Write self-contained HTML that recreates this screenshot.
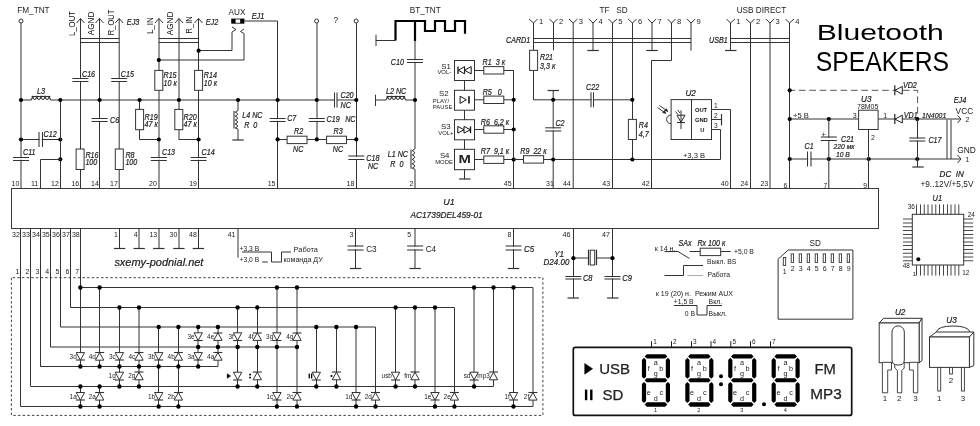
<!DOCTYPE html>
<html><head><meta charset="utf-8"><title>Bluetooth speakers schematic</title>
<style>
html,body{margin:0;padding:0;background:#fff;width:980px;height:426px;overflow:hidden;}
svg{display:block;font-family:"Liberation Sans",sans-serif;filter:grayscale(1);}
text{white-space:pre;}
</style></head><body>
<svg width="980" height="426" viewBox="0 0 980 426">
<rect x="0" y="0" width="980" height="426" fill="#fff"/>
<rect x="11.5" y="188.5" width="867" height="40" fill="#fff" stroke="#3a3a3a" stroke-width="1"/>
<text x="443.3" y="204.6" font-size="9" font-style="italic" fill="#222" stroke="#222" stroke-width="0.2">U1</text>
<text transform="translate(410.4,218) scale(0.97,1)" font-size="8.6" font-style="italic" fill="#222" stroke="#222" stroke-width="0.2">AC1739DEL459-01</text>
<text x="17.3" y="13.1" font-size="8.2" fill="#222">FM_TNT</text>
<line x1="21" y1="23" x2="21" y2="188.5" stroke="#333" stroke-width="1"/>
<circle cx="21" cy="21" r="2" fill="#fff" stroke="#333" stroke-width="1"/>
<line x1="80.5" y1="18.5" x2="80.5" y2="188.5" stroke="#333" stroke-width="1"/>
<polyline points="76.5,23 80.5,18.5 84.5,23" fill="none" stroke="#333" stroke-width="1"/>
<line x1="99.5" y1="18.5" x2="99.5" y2="188.5" stroke="#333" stroke-width="1"/>
<polyline points="95.5,23 99.5,18.5 103.5,23" fill="none" stroke="#333" stroke-width="1"/>
<line x1="119.2" y1="18.5" x2="119.2" y2="188.5" stroke="#333" stroke-width="1"/>
<polyline points="115.2,23 119.2,18.5 123.2,23" fill="none" stroke="#333" stroke-width="1"/>
<line x1="80.4" y1="38.5" x2="119.2" y2="38.5" stroke="#333" stroke-width="1"/>
<line x1="80.4" y1="42.5" x2="119.2" y2="42.5" stroke="#333" stroke-width="1"/>
<text transform="translate(126.8,24.8) scale(0.87,1)" font-size="8.42" font-style="italic" fill="#222" stroke="#222" stroke-width="0.2">EJ3</text>
<polyline points="155,23 159,18.5 163,23" fill="none" stroke="#333" stroke-width="1"/>
<polyline points="175,23 179,18.5 183,23" fill="none" stroke="#333" stroke-width="1"/>
<polyline points="194.5,23 198.5,18.5 202.5,23" fill="none" stroke="#333" stroke-width="1"/>
<line x1="159" y1="18.5" x2="159" y2="188.5" stroke="#333" stroke-width="1"/>
<line x1="179" y1="18.5" x2="179" y2="139.5" stroke="#333" stroke-width="1"/>
<line x1="198.5" y1="18.5" x2="198.5" y2="188.5" stroke="#333" stroke-width="1"/>
<line x1="158.8" y1="38.5" x2="198.6" y2="38.5" stroke="#333" stroke-width="1"/>
<line x1="158.8" y1="42.5" x2="198.6" y2="42.5" stroke="#333" stroke-width="1"/>
<text transform="translate(205.7,25.2) scale(0.87,1)" font-size="8.42" font-style="italic" fill="#222" stroke="#222" stroke-width="0.2">EJ2</text>
<text transform="translate(74.8,36.1) rotate(-90)" font-size="9.4" fill="#111" textLength="25.2" lengthAdjust="spacingAndGlyphs">L_OUT</text>
<text transform="translate(93.8,35.2) rotate(-90)" font-size="9.4" fill="#111" textLength="23.6" lengthAdjust="spacingAndGlyphs">AGND</text>
<text transform="translate(114,35.2) rotate(-90)" font-size="9.4" fill="#111" textLength="25.5" lengthAdjust="spacingAndGlyphs">R_OUT</text>
<text transform="translate(153,34.1) rotate(-90)" font-size="9.4" fill="#111" textLength="16.8" lengthAdjust="spacingAndGlyphs">L_IN</text>
<text transform="translate(173.3,35.2) rotate(-90)" font-size="9.4" fill="#111" textLength="23.6" lengthAdjust="spacingAndGlyphs">AGND</text>
<text transform="translate(191.8,33.4) rotate(-90)" font-size="9.4" fill="#111" textLength="17" lengthAdjust="spacingAndGlyphs">R_IN</text>
<line x1="21" y1="100" x2="334.3" y2="100" stroke="#333" stroke-width="1"/>
<line x1="336.9" y1="100" x2="356.3" y2="100" stroke="#333" stroke-width="1"/>
<rect x="31.2" y="98.5" width="19.5" height="3" fill="#fff"/>
<line x1="31.6" y1="96.5" x2="50.3" y2="96.5" stroke="#333" stroke-width="1.1"/>
<path d="M31.1,100 L32.7,96.8 Q34.76,102.6 36.83,96.8 Q38.89,102.6 40.95,96.8 Q43.01,102.6 45.08,96.8 Q47.14,102.6 49.2,96.8 L50.8,100" fill="none" stroke="#333" stroke-width="1.1"/>
<text transform="translate(37,93.8) scale(0.87,1)" font-size="8.42" font-style="italic" fill="#222" stroke="#222" stroke-width="0.2">L3</text>
<line x1="21" y1="139.5" x2="60.3" y2="139.5" stroke="#333" stroke-width="1"/>
<rect x="39.5" y="138.5" width="2.2" height="2" fill="#fff"/>
<line x1="39" y1="132" x2="39" y2="147" stroke="#333" stroke-width="1.05"/>
<line x1="42.5" y1="132" x2="42.5" y2="147" stroke="#333" stroke-width="1.05"/>
<text transform="translate(43.6,136.9) scale(0.87,1)" font-size="8.21" font-style="italic" fill="#222" stroke="#222" stroke-width="0.2">C12</text>
<circle cx="21" cy="139.5" r="2.1" fill="#000"/>
<circle cx="60.3" cy="139.5" r="2.1" fill="#000"/>
<rect x="20" y="158.1" width="2" height="1.6" fill="#fff"/>
<line x1="13" y1="157.5" x2="29" y2="157.5" stroke="#333" stroke-width="1.05"/>
<line x1="13" y1="160.5" x2="29" y2="160.5" stroke="#333" stroke-width="1.05"/>
<text transform="translate(23,155.4) scale(0.87,1)" font-size="8.21" font-style="italic" fill="#222" stroke="#222" stroke-width="0.2">C11</text>
<line x1="60.5" y1="100" x2="60.5" y2="188.5" stroke="#333" stroke-width="1"/>
<circle cx="60.3" cy="159.3" r="2.1" fill="#000"/>
<polyline points="40.5,188.5 40.5,159.5 60.5,159.5" fill="none" stroke="#333" stroke-width="1"/>
<rect x="79.4" y="79.1" width="2" height="1.9" fill="#fff"/>
<line x1="72.4" y1="78.5" x2="88.4" y2="78.5" stroke="#333" stroke-width="1.05"/>
<line x1="72.4" y1="81.5" x2="88.4" y2="81.5" stroke="#333" stroke-width="1.05"/>
<text transform="translate(82,77) scale(0.87,1)" font-size="8.21" font-style="italic" fill="#222" stroke="#222" stroke-width="0.2">C16</text>
<rect x="118.2" y="79.1" width="2" height="1.9" fill="#fff"/>
<line x1="111.2" y1="78.5" x2="127.2" y2="78.5" stroke="#333" stroke-width="1.05"/>
<line x1="111.2" y1="81.5" x2="127.2" y2="81.5" stroke="#333" stroke-width="1.05"/>
<text transform="translate(120.8,77) scale(0.87,1)" font-size="8.21" font-style="italic" fill="#222" stroke="#222" stroke-width="0.2">C15</text>
<rect x="98.6" y="119.1" width="2" height="1.9" fill="#fff"/>
<line x1="91.6" y1="118.5" x2="107.6" y2="118.5" stroke="#333" stroke-width="1.05"/>
<line x1="91.6" y1="121.5" x2="107.6" y2="121.5" stroke="#333" stroke-width="1.05"/>
<text transform="translate(110,122.8) scale(0.87,1)" font-size="8.21" font-style="italic" fill="#222" stroke="#222" stroke-width="0.2">C6</text>
<rect x="76.1" y="149" width="8" height="20.5" fill="#fff" stroke="#333" stroke-width="1"/>
<text transform="translate(85.4,158) scale(0.87,1)" font-size="8.21" font-style="italic" fill="#222" stroke="#222" stroke-width="0.2">R16</text>
<text transform="translate(85.4,165.2) scale(0.87,1)" font-size="8.21" font-style="italic" fill="#222" stroke="#222" stroke-width="0.2">100</text>
<rect x="115.3" y="149" width="8" height="20.5" fill="#fff" stroke="#333" stroke-width="1"/>
<text transform="translate(125.4,158) scale(0.87,1)" font-size="8.21" font-style="italic" fill="#222" stroke="#222" stroke-width="0.2">R8</text>
<text transform="translate(125.4,165.2) scale(0.87,1)" font-size="8.21" font-style="italic" fill="#222" stroke="#222" stroke-width="0.2">100</text>
<line x1="139.5" y1="100" x2="139.5" y2="139.5" stroke="#333" stroke-width="1"/>
<line x1="139.6" y1="139.5" x2="158.8" y2="139.5" stroke="#333" stroke-width="1"/>
<rect x="135.6" y="109.4" width="8" height="20.3" fill="#fff" stroke="#333" stroke-width="1"/>
<text transform="translate(144.6,120) scale(0.87,1)" font-size="8.21" font-style="italic" fill="#222" stroke="#222" stroke-width="0.2">R19</text>
<text transform="translate(144.6,127.2) scale(0.87,1)" font-size="8.21" font-style="italic" fill="#222" stroke="#222" stroke-width="0.2">47 к</text>
<rect x="154.8" y="70.4" width="8" height="19.9" fill="#fff" stroke="#333" stroke-width="1"/>
<text transform="translate(163.5,78) scale(0.87,1)" font-size="8.21" font-style="italic" fill="#222" stroke="#222" stroke-width="0.2">R15</text>
<text transform="translate(163.5,86) scale(0.87,1)" font-size="8.21" font-style="italic" fill="#222" stroke="#222" stroke-width="0.2">10 к</text>
<rect x="194.6" y="70.4" width="8" height="19.9" fill="#fff" stroke="#333" stroke-width="1"/>
<text transform="translate(203.8,78) scale(0.87,1)" font-size="8.21" font-style="italic" fill="#222" stroke="#222" stroke-width="0.2">R14</text>
<text transform="translate(203.8,86) scale(0.87,1)" font-size="8.21" font-style="italic" fill="#222" stroke="#222" stroke-width="0.2">10 к</text>
<rect x="174.8" y="109.4" width="8" height="20.3" fill="#fff" stroke="#333" stroke-width="1"/>
<line x1="178.9" y1="139.5" x2="198.6" y2="139.5" stroke="#333" stroke-width="1"/>
<text transform="translate(183.6,120) scale(0.87,1)" font-size="8.21" font-style="italic" fill="#222" stroke="#222" stroke-width="0.2">R20</text>
<text transform="translate(183.6,127.2) scale(0.87,1)" font-size="8.21" font-style="italic" fill="#222" stroke="#222" stroke-width="0.2">47 к</text>
<circle cx="158.8" cy="139.5" r="2.1" fill="#000"/>
<circle cx="198.6" cy="139.5" r="2.1" fill="#000"/>
<rect x="157.8" y="158.1" width="2" height="1.6" fill="#fff"/>
<line x1="150.8" y1="157.5" x2="166.8" y2="157.5" stroke="#333" stroke-width="1.05"/>
<line x1="150.8" y1="160.5" x2="166.8" y2="160.5" stroke="#333" stroke-width="1.05"/>
<text transform="translate(162,155) scale(0.87,1)" font-size="8.21" font-style="italic" fill="#222" stroke="#222" stroke-width="0.2">C13</text>
<rect x="197.6" y="158.1" width="2" height="1.6" fill="#fff"/>
<line x1="190.6" y1="157.5" x2="206.6" y2="157.5" stroke="#333" stroke-width="1.05"/>
<line x1="190.6" y1="160.5" x2="206.6" y2="160.5" stroke="#333" stroke-width="1.05"/>
<text transform="translate(201.6,155) scale(0.87,1)" font-size="8.21" font-style="italic" fill="#222" stroke="#222" stroke-width="0.2">C14</text>
<text x="228.6" y="15" font-size="8.2" fill="#222">AUX</text>
<rect x="231.7" y="19" width="12.3" height="4.2" fill="#fff"/>
<rect x="231.7" y="19" width="3.9" height="4.2" fill="#000"/>
<rect x="240.2" y="19" width="3.8" height="4.2" fill="#000"/>
<rect x="231.7" y="19" width="12.3" height="4.2" fill="none" stroke="#000" stroke-width="0.8"/>
<polyline points="244,21 277.5,21 277.5,188.5" fill="none" stroke="#333" stroke-width="1"/>
<text transform="translate(251.7,18.6) scale(0.87,1)" font-size="8.42" font-style="italic" fill="#222" stroke="#222" stroke-width="0.2">EJ1</text>
<polyline points="232,27 236,29.5 232,32 232,50.5 198.5,50.5" fill="none" stroke="#333" stroke-width="1"/>
<polyline points="244,29 240.5,31.5 244,33.5 244,60 159,60" fill="none" stroke="#333" stroke-width="1"/>
<circle cx="198.6" cy="50.7" r="2.1" fill="#000"/>
<circle cx="158.8" cy="60.1" r="2.1" fill="#000"/>
<line x1="238" y1="100" x2="238" y2="139.9" stroke="#333" stroke-width="1"/>
<rect x="236" y="110.5" width="4" height="18.6" fill="#fff"/>
<line x1="234" y1="111" x2="234" y2="128.6" stroke="#333" stroke-width="1.1"/>
<path d="M238,110.4 L235.2,112.2 Q240.2,114.18 235.2,116.15 Q240.2,118.12 235.2,120.1 Q240.2,122.07 235.2,124.05 Q240.2,126.02 235.2,128 L238,129.2" fill="none" stroke="#333" stroke-width="1"/>
<line x1="232.3" y1="140" x2="243.7" y2="140" stroke="#333" stroke-width="1.2"/>
<text transform="translate(242.3,117.5) scale(0.87,1)" font-size="8.21" font-style="italic" fill="#222" stroke="#222" stroke-width="0.2">L4 NC</text>
<text transform="translate(244.2,127.5) scale(0.87,1)" font-size="8.21" font-style="italic" fill="#222" stroke="#222" stroke-width="0.2">R  0</text>
<rect x="276.6" y="118.9" width="2" height="1.9" fill="#fff"/>
<line x1="269.6" y1="118.5" x2="285.6" y2="118.5" stroke="#333" stroke-width="1.05"/>
<line x1="269.6" y1="121.5" x2="285.6" y2="121.5" stroke="#333" stroke-width="1.05"/>
<text transform="translate(287.2,121.4) scale(0.87,1)" font-size="8.21" font-style="italic" fill="#222" stroke="#222" stroke-width="0.2">C7</text>
<line x1="317" y1="23" x2="317" y2="139.4" stroke="#333" stroke-width="1"/>
<circle cx="316.6" cy="21" r="2" fill="#fff" stroke="#333" stroke-width="1"/>
<text x="333.5" y="23" font-size="8.2" fill="#222">?</text>
<line x1="356.5" y1="23" x2="356.5" y2="188.5" stroke="#333" stroke-width="1"/>
<circle cx="356.1" cy="21" r="2" fill="#fff" stroke="#333" stroke-width="1"/>
<rect x="315.8" y="118.9" width="2" height="1.9" fill="#fff"/>
<line x1="308.8" y1="118.5" x2="324.8" y2="118.5" stroke="#333" stroke-width="1.05"/>
<line x1="308.8" y1="121.5" x2="324.8" y2="121.5" stroke="#333" stroke-width="1.05"/>
<text transform="translate(326.6,121.6) scale(0.87,1)" font-size="8.21" font-style="italic" fill="#222" stroke="#222" stroke-width="0.2">C19</text>
<text transform="translate(345.2,121.6) scale(0.87,1)" font-size="8.21" font-style="italic" fill="#222" stroke="#222" stroke-width="0.2">NC</text>
<rect x="334.9" y="99" width="1.4" height="2" fill="#fff"/>
<line x1="334.5" y1="92.5" x2="334.5" y2="107.5" stroke="#333" stroke-width="1.05"/>
<line x1="337" y1="92.5" x2="337" y2="107.5" stroke="#333" stroke-width="1.05"/>
<text transform="translate(340.5,97.5) scale(0.87,1)" font-size="8.21" font-style="italic" fill="#222" stroke="#222" stroke-width="0.2">C20</text>
<text transform="translate(340.5,107.5) scale(0.87,1)" font-size="8.21" font-style="italic" fill="#222" stroke="#222" stroke-width="0.2">NC</text>
<line x1="277.6" y1="139.5" x2="356.3" y2="139.5" stroke="#333" stroke-width="1"/>
<rect x="287.1" y="136.2" width="19.9" height="7.4" fill="#fff" stroke="#333" stroke-width="1"/>
<rect x="326.6" y="136.2" width="19.9" height="7.4" fill="#fff" stroke="#333" stroke-width="1"/>
<text transform="translate(294,133.7) scale(0.87,1)" font-size="8.21" font-style="italic" fill="#222" stroke="#222" stroke-width="0.2">R2</text>
<text transform="translate(293,151.7) scale(0.87,1)" font-size="8.21" font-style="italic" fill="#222" stroke="#222" stroke-width="0.2">NC</text>
<text transform="translate(333.5,133.7) scale(0.87,1)" font-size="8.21" font-style="italic" fill="#222" stroke="#222" stroke-width="0.2">R3</text>
<text transform="translate(332.8,151.7) scale(0.87,1)" font-size="8.21" font-style="italic" fill="#222" stroke="#222" stroke-width="0.2">NC</text>
<rect x="355.3" y="156.7" width="2" height="2.2" fill="#fff"/>
<line x1="348.3" y1="156" x2="364.3" y2="156" stroke="#333" stroke-width="1.05"/>
<line x1="348.3" y1="159.5" x2="364.3" y2="159.5" stroke="#333" stroke-width="1.05"/>
<text transform="translate(366.3,161.3) scale(0.87,1)" font-size="8.21" font-style="italic" fill="#222" stroke="#222" stroke-width="0.2">C18</text>
<text transform="translate(367.9,169) scale(0.87,1)" font-size="8.21" font-style="italic" fill="#222" stroke="#222" stroke-width="0.2">NC</text>
<circle cx="21" cy="100" r="2.1" fill="#000"/>
<circle cx="60.3" cy="100" r="2.1" fill="#000"/>
<circle cx="99.6" cy="100" r="2.1" fill="#000"/>
<circle cx="139.6" cy="100" r="2.1" fill="#000"/>
<circle cx="178.9" cy="100" r="2.1" fill="#000"/>
<circle cx="238" cy="100" r="2.1" fill="#000"/>
<circle cx="277.6" cy="100" r="2.1" fill="#000"/>
<circle cx="316.8" cy="100" r="2.1" fill="#000"/>
<circle cx="356.3" cy="100" r="2.1" fill="#000"/>
<circle cx="277.6" cy="139.4" r="2.1" fill="#000"/>
<circle cx="316.8" cy="139.4" r="2.1" fill="#000"/>
<circle cx="356.3" cy="139.4" r="2.1" fill="#000"/>
<line x1="376" y1="34.7" x2="376" y2="46" stroke="#333" stroke-width="1"/>
<line x1="375.8" y1="40.5" x2="395.5" y2="40.5" stroke="#333" stroke-width="1"/>
<polyline points="395.5,40.5 395.5,21 425,21 425,31 435,31 435,21 445,21 445,31 455,31 455,21 465,21 465,33.8" fill="none" stroke="#000" stroke-width="2.2"/>
<line x1="415" y1="21" x2="415" y2="41" stroke="#000" stroke-width="2.2"/>
<line x1="415" y1="41" x2="415" y2="188.5" stroke="#333" stroke-width="1"/>
<text x="409.8" y="13.1" font-size="8.2" fill="#222">BT_TNT</text>
<rect x="414" y="60.3" width="2" height="1.6" fill="#fff"/>
<line x1="407" y1="59.5" x2="423" y2="59.5" stroke="#333" stroke-width="1.05"/>
<line x1="407" y1="62.5" x2="423" y2="62.5" stroke="#333" stroke-width="1.05"/>
<text transform="translate(390.8,64.8) scale(0.87,1)" font-size="8.21" font-style="italic" fill="#222" stroke="#222" stroke-width="0.2">C10</text>
<line x1="375.5" y1="94.7" x2="375.5" y2="106" stroke="#333" stroke-width="1"/>
<line x1="375.6" y1="100" x2="415" y2="100" stroke="#333" stroke-width="1"/>
<rect x="386.1" y="98.5" width="19.5" height="3" fill="#fff"/>
<line x1="386.5" y1="96.5" x2="405.2" y2="96.5" stroke="#333" stroke-width="1.1"/>
<path d="M386,100 L387.6,96.8 Q389.66,102.6 391.73,96.8 Q393.79,102.6 395.85,96.8 Q397.91,102.6 399.98,96.8 Q402.04,102.6 404.1,96.8 L405.7,100" fill="none" stroke="#333" stroke-width="1.1"/>
<text transform="translate(386,93.8) scale(0.87,1)" font-size="8.21" font-style="italic" fill="#222" stroke="#222" stroke-width="0.2">L2 NC</text>
<circle cx="415" cy="100" r="2.1" fill="#000"/>
<rect x="413" y="148.9" width="4" height="20.4" fill="#fff"/>
<line x1="411" y1="149.4" x2="411" y2="168.8" stroke="#333" stroke-width="1.1"/>
<path d="M415,148.8 L412.2,150.6 Q417.2,152.8 412.2,155 Q417.2,157.2 412.2,159.4 Q417.2,161.6 412.2,163.8 Q417.2,166 412.2,168.2 L415,169.4" fill="none" stroke="#333" stroke-width="1"/>
<text transform="translate(387.8,157) scale(0.87,1)" font-size="8.21" font-style="italic" fill="#222" stroke="#222" stroke-width="0.2">L1 NC</text>
<text transform="translate(390.3,167) scale(0.87,1)" font-size="8.21" font-style="italic" fill="#222" stroke="#222" stroke-width="0.2">R  0</text>
<line x1="464.5" y1="80.5" x2="464.5" y2="179.2" stroke="#333" stroke-width="1"/>
<rect x="454.5" y="60.5" width="20" height="20" fill="#fff" stroke="#333" stroke-width="1"/>
<rect x="454.5" y="90.3" width="20" height="19.9" fill="#fff" stroke="#333" stroke-width="1"/>
<rect x="454.5" y="119.7" width="20" height="20.1" fill="#fff" stroke="#333" stroke-width="1"/>
<rect x="454.5" y="149.3" width="20" height="20.4" fill="#fff" stroke="#333" stroke-width="1"/>
<line x1="459.1" y1="179" x2="470.5" y2="179" stroke="#333" stroke-width="1.2"/>
<line x1="458" y1="66.6" x2="458" y2="73.9" stroke="#111" stroke-width="1.3"/>
<polygon points="458.4,70.25 464.6,66.6 464.6,73.9" fill="none" stroke="#111" stroke-width="1"/>
<polygon points="464.6,70.25 471.2,66.6 471.2,73.9" fill="none" stroke="#111" stroke-width="1"/>
<polygon points="460.1,96.2 466.3,99.8 460.1,103.4" fill="none" stroke="#111" stroke-width="1"/>
<line x1="469" y1="96.2" x2="469" y2="103.4" stroke="#111" stroke-width="1.6"/>
<polygon points="457.8,126.4 464,129.75 457.8,133.1" fill="none" stroke="#111" stroke-width="1"/>
<polygon points="464,126.4 470.4,129.75 464,133.1" fill="none" stroke="#111" stroke-width="1"/>
<line x1="470.5" y1="126.4" x2="470.5" y2="133.1" stroke="#111" stroke-width="1.3"/>
<text x="458.6" y="163" font-size="11" font-weight="bold" fill="#222" textLength="12.4" lengthAdjust="spacingAndGlyphs">M</text>
<text x="441.2" y="69.3" font-size="7.8" fill="#222">S1</text>
<text x="437.4" y="74.4" font-size="5.9" fill="#222">VOL-</text>
<text x="439" y="95.7" font-size="7.8" fill="#222">S2</text>
<text x="432.8" y="102.7" font-size="5.9" fill="#222">PLAY/</text>
<text x="432.8" y="108.7" font-size="5.9" fill="#222">PAUSE</text>
<text x="441" y="129.3" font-size="7.8" fill="#222">S3</text>
<text x="438.3" y="135.2" font-size="5.9" fill="#222">VOL+</text>
<text x="439.9" y="158" font-size="7.8" fill="#222">S4</text>
<text x="435.2" y="164.3" font-size="5.9" fill="#222">MODE</text>
<line x1="474.5" y1="70.5" x2="513.7" y2="70.5" stroke="#333" stroke-width="1"/>
<line x1="474.5" y1="99.8" x2="513.7" y2="99.8" stroke="#333" stroke-width="1"/>
<line x1="474.5" y1="129.5" x2="513.7" y2="129.5" stroke="#333" stroke-width="1"/>
<line x1="474.5" y1="159.5" x2="513.7" y2="159.5" stroke="#333" stroke-width="1"/>
<rect x="483.8" y="66.6" width="20" height="7.4" fill="#fff" stroke="#333" stroke-width="1"/>
<rect x="483.8" y="96.1" width="20" height="7.4" fill="#fff" stroke="#333" stroke-width="1"/>
<rect x="483.8" y="125.8" width="20" height="7.4" fill="#fff" stroke="#333" stroke-width="1"/>
<rect x="483.8" y="156" width="20" height="7.4" fill="#fff" stroke="#333" stroke-width="1"/>
<line x1="513.5" y1="70.3" x2="513.5" y2="188.5" stroke="#333" stroke-width="1"/>
<circle cx="513.7" cy="99.8" r="2.1" fill="#000"/>
<circle cx="513.7" cy="129.5" r="2.1" fill="#000"/>
<circle cx="513.7" cy="159.6" r="2.1" fill="#000"/>
<text transform="translate(482.6,64.8) scale(0.87,1)" font-size="8.21" font-style="italic" fill="#222" stroke="#222" stroke-width="0.2">R1  3 к</text>
<text transform="translate(482.7,94.5) scale(0.87,1)" font-size="8.21" font-style="italic" fill="#222" stroke="#222" stroke-width="0.2">R5   0</text>
<text transform="translate(480.8,124.6) scale(0.87,1)" font-size="8.21" font-style="italic" fill="#222" stroke="#222" stroke-width="0.2">R6  6,2 к</text>
<text transform="translate(480.8,153.5) scale(0.87,1)" font-size="8.21" font-style="italic" fill="#222" stroke="#222" stroke-width="0.2">R7  9,1 к</text>
<line x1="513.7" y1="159.5" x2="720.5" y2="159.5" stroke="#333" stroke-width="1"/>
<rect x="523.5" y="155.7" width="20.1" height="7.4" fill="#fff" stroke="#333" stroke-width="1"/>
<text transform="translate(520.3,153.6) scale(0.87,1)" font-size="8.21" font-style="italic" fill="#222" stroke="#222" stroke-width="0.2">R9  22 к</text>
<polyline points="529,19 533.5,23 537.5,19" fill="none" stroke="#333" stroke-width="1"/>
<text x="539" y="23.6" font-size="7.6" fill="#222">1</text>
<polyline points="549.5,19 553.5,23 557.5,19" fill="none" stroke="#333" stroke-width="1"/>
<text x="559.1" y="23.6" font-size="7.6" fill="#222">2</text>
<polyline points="569,19 573.2,23 577.5,19" fill="none" stroke="#333" stroke-width="1"/>
<text x="578.8" y="23.6" font-size="7.6" fill="#222">3</text>
<polyline points="588.8,19 593,23 597.2,19" fill="none" stroke="#333" stroke-width="1"/>
<text x="598.6" y="23.6" font-size="7.6" fill="#222">4</text>
<polyline points="608.5,19 612.5,23 617,19" fill="none" stroke="#333" stroke-width="1"/>
<text x="618.3" y="23.6" font-size="7.6" fill="#222">5</text>
<polyline points="628,19 632.5,23 636.5,19" fill="none" stroke="#333" stroke-width="1"/>
<text x="638" y="23.6" font-size="7.6" fill="#222">6</text>
<polyline points="647.8,19 652,23 656.2,19" fill="none" stroke="#333" stroke-width="1"/>
<text x="657.6" y="23.6" font-size="7.6" fill="#222">7</text>
<polyline points="667.5,19 671.5,23 675.5,19" fill="none" stroke="#333" stroke-width="1"/>
<text x="677.1" y="23.6" font-size="7.6" fill="#222">8</text>
<polyline points="686.8,19 691,23 695.2,19" fill="none" stroke="#333" stroke-width="1"/>
<text x="696.6" y="23.6" font-size="7.6" fill="#222">9</text>
<line x1="533.4" y1="38.5" x2="691" y2="38.5" stroke="#333" stroke-width="1"/>
<line x1="533.4" y1="42.5" x2="691" y2="42.5" stroke="#333" stroke-width="1"/>
<text transform="translate(506,42.8) scale(0.87,1)" font-size="8.21" font-style="italic" fill="#222" stroke="#222" stroke-width="0.2">CARD1</text>
<text x="599.5" y="13.1" font-size="8.2" fill="#222">TF   SD</text>
<line x1="533.5" y1="22.8" x2="533.5" y2="99.8" stroke="#333" stroke-width="1"/>
<rect x="529.6" y="50.3" width="8" height="20.1" fill="#fff" stroke="#333" stroke-width="1"/>
<text transform="translate(540,60) scale(0.87,1)" font-size="8.21" font-style="italic" fill="#222" stroke="#222" stroke-width="0.2">R21</text>
<text transform="translate(540,68.5) scale(0.87,1)" font-size="8.21" font-style="italic" fill="#222" stroke="#222" stroke-width="0.2">3,3 к</text>
<line x1="533.4" y1="99.8" x2="632.2" y2="99.8" stroke="#333" stroke-width="1"/>
<line x1="553.5" y1="22.8" x2="553.5" y2="50.3" stroke="#333" stroke-width="1"/>
<line x1="573.2" y1="22.8" x2="573.2" y2="188.5" stroke="#333" stroke-width="1"/>
<line x1="593" y1="22.8" x2="593" y2="50.7" stroke="#333" stroke-width="1"/>
<line x1="587.3" y1="50.5" x2="598.7" y2="50.5" stroke="#333" stroke-width="1.2"/>
<line x1="612.5" y1="22.8" x2="612.5" y2="188.5" stroke="#333" stroke-width="1"/>
<line x1="632.5" y1="22.8" x2="632.5" y2="159.5" stroke="#333" stroke-width="1"/>
<line x1="652" y1="22.8" x2="652" y2="50.7" stroke="#333" stroke-width="1"/>
<line x1="646.3" y1="50.5" x2="657.7" y2="50.5" stroke="#333" stroke-width="1.2"/>
<polyline points="671.5,23 671.5,60.5 651.5,60.5 651.5,188.5" fill="none" stroke="#333" stroke-width="1"/>
<line x1="691" y1="22.8" x2="691" y2="50.7" stroke="#333" stroke-width="1"/>
<line x1="553.2" y1="90.4" x2="553.2" y2="188.5" stroke="#333" stroke-width="1"/>
<line x1="547.6" y1="90.5" x2="559" y2="90.5" stroke="#333" stroke-width="1.2"/>
<circle cx="553.2" cy="99.8" r="2.1" fill="#000"/>
<rect x="591.6" y="98.8" width="1.4" height="2" fill="#fff"/>
<line x1="591" y1="92.3" x2="591" y2="107.3" stroke="#333" stroke-width="1.05"/>
<line x1="593.5" y1="92.3" x2="593.5" y2="107.3" stroke="#333" stroke-width="1.05"/>
<text transform="translate(586.1,89.7) scale(0.87,1)" font-size="8.21" font-style="italic" fill="#222" stroke="#222" stroke-width="0.2">C22</text>
<circle cx="632.3" cy="99.8" r="2.1" fill="#000"/>
<rect x="552.2" y="128.4" width="2" height="2" fill="#fff"/>
<line x1="545.2" y1="127.8" x2="561.2" y2="127.8" stroke="#333" stroke-width="1.05"/>
<line x1="545.2" y1="131" x2="561.2" y2="131" stroke="#333" stroke-width="1.05"/>
<text transform="translate(555.4,126) scale(0.87,1)" font-size="8.21" font-style="italic" fill="#222" stroke="#222" stroke-width="0.2">C2</text>
<circle cx="553.2" cy="159.5" r="2.1" fill="#000"/>
<rect x="628.4" y="119.4" width="8" height="20.1" fill="#fff" stroke="#333" stroke-width="1"/>
<text transform="translate(638.8,128) scale(0.87,1)" font-size="8.21" font-style="italic" fill="#222" stroke="#222" stroke-width="0.2">R4</text>
<text transform="translate(638.8,136.5) scale(0.87,1)" font-size="8.21" font-style="italic" fill="#222" stroke="#222" stroke-width="0.2">4,7</text>
<circle cx="632.4" cy="159.5" r="2.1" fill="#000"/>
<rect x="671.1" y="99.6" width="40.4" height="39.9" fill="#fff" stroke="#333" stroke-width="1"/>
<line x1="691.5" y1="99.6" x2="691.5" y2="139.5" stroke="#333" stroke-width="1"/>
<text x="685.4" y="95.9" font-size="8.2" font-style="italic" fill="#222" stroke="#222" stroke-width="0.2">U2</text>
<text x="694.9" y="111.8" font-size="5.8" font-weight="bold" fill="#111">OUT</text>
<text x="694.9" y="121.7" font-size="5.8" font-weight="bold" fill="#111">GND</text>
<text x="700.2" y="131.7" font-size="5.8" font-weight="bold" fill="#111">U</text>
<text x="713.9" y="108" font-size="6.6" fill="#222">1</text>
<text x="713.9" y="118" font-size="6.6" fill="#222">2</text>
<text x="713.9" y="128" font-size="6.6" fill="#222">3</text>
<polyline points="711.5,109.5 730.5,109.5 730.5,188.5" fill="none" stroke="#333" stroke-width="1"/>
<line x1="711.5" y1="119.5" x2="721.4" y2="119.5" stroke="#333" stroke-width="1"/>
<line x1="721.5" y1="114.1" x2="721.5" y2="125.4" stroke="#333" stroke-width="1.2"/>
<polyline points="711.5,129.5 720.5,129.5 720.5,159.5" fill="none" stroke="#333" stroke-width="1"/>
<text x="682.9" y="157.9" font-size="7.6" fill="#222">+3,3 В</text>
<polygon points="677,115.2 685,115.2 681,122.4" fill="none" stroke="#222" stroke-width="1"/>
<line x1="677" y1="122.5" x2="685" y2="122.5" stroke="#333" stroke-width="1.1"/>
<line x1="681" y1="110.4" x2="681" y2="129.1" stroke="#333" stroke-width="1"/>
<line x1="677.5" y1="110" x2="680" y2="113" stroke="#333" stroke-width="1"/>
<line x1="675.5" y1="111.5" x2="678" y2="114.5" stroke="#333" stroke-width="1"/>
<path d="M671,115 A4.4,4.4 0 0,0 671,123.8" fill="none" stroke="#333" stroke-width="1"/>
<line x1="657.5" y1="107.5" x2="665.5" y2="113.2" stroke="#333" stroke-width="1"/>
<line x1="659.5" y1="105.5" x2="667.5" y2="111.2" stroke="#333" stroke-width="1"/>
<polygon points="665.8,113.4 662.6,112.6 664.6,110.8" fill="#222" stroke="#222" stroke-width="0.6"/>
<polygon points="667.8,111.4 664.6,110.6 666.6,108.8" fill="#222" stroke="#222" stroke-width="0.6"/>
<polyline points="726.5,19 730.5,23 735,19" fill="none" stroke="#333" stroke-width="1"/>
<text x="736.3" y="23.6" font-size="7.6" fill="#222">1</text>
<polyline points="746,19 750.5,23 754.5,19" fill="none" stroke="#333" stroke-width="1"/>
<text x="756" y="23.6" font-size="7.6" fill="#222">2</text>
<polyline points="765.8,19 770,23 774.2,19" fill="none" stroke="#333" stroke-width="1"/>
<text x="775.6" y="23.6" font-size="7.6" fill="#222">3</text>
<polyline points="785.5,19 789.5,23 794,19" fill="none" stroke="#333" stroke-width="1"/>
<text x="795.3" y="23.6" font-size="7.6" fill="#222">4</text>
<line x1="730.7" y1="38.5" x2="789.7" y2="38.5" stroke="#333" stroke-width="1"/>
<line x1="730.7" y1="42.5" x2="789.7" y2="42.5" stroke="#333" stroke-width="1"/>
<text transform="translate(709,42.8) scale(0.87,1)" font-size="8.21" font-style="italic" fill="#222" stroke="#222" stroke-width="0.2">USB1</text>
<text x="736.7" y="13.1" font-size="8.2" fill="#222">USB DIRECT</text>
<line x1="730.5" y1="22.8" x2="730.5" y2="50.7" stroke="#333" stroke-width="1"/>
<line x1="725.1" y1="50.5" x2="736.5" y2="50.5" stroke="#333" stroke-width="1.2"/>
<line x1="750.5" y1="22.8" x2="750.5" y2="188.5" stroke="#333" stroke-width="1"/>
<line x1="770" y1="22.8" x2="770" y2="188.5" stroke="#333" stroke-width="1"/>
<line x1="789.5" y1="22.8" x2="789.5" y2="188.5" stroke="#333" stroke-width="1"/>
<polyline points="789.7,90.3 917.6,90.3 917.6,119.1" fill="none" stroke="#555" stroke-width="1" stroke-dasharray="6.7,3.7" stroke-dashoffset="1.2"/>
<circle cx="789.7" cy="90.3" r="2.1" fill="#000"/>
<polygon points="902.3,86.4 902.3,94.2 895,90.3" fill="#fff" stroke="#222" stroke-width="1"/>
<line x1="894.8" y1="85.2" x2="894.8" y2="95.2" stroke="#222" stroke-width="1.2"/>
<text transform="translate(902.9,87.8) scale(0.87,1)" font-size="8.21" font-style="italic" fill="#222" stroke="#222" stroke-width="0.2">VD2</text>
<line x1="789.7" y1="119" x2="858.6" y2="119" stroke="#333" stroke-width="1"/>
<rect x="858.6" y="110.2" width="19.5" height="19.3" fill="#fff" stroke="#333" stroke-width="1"/>
<text transform="translate(861,101.8) scale(0.95,1)" font-size="8.6" font-style="italic" fill="#222" stroke="#222" stroke-width="0.2">U3</text>
<text x="857" y="109" font-size="7" fill="#222">78M05</text>
<text x="852.8" y="118" font-size="7" fill="#222">3</text>
<text x="883.3" y="118" font-size="7" fill="#222">1</text>
<text x="871" y="139.5" font-size="7" fill="#222">2</text>
<text x="793" y="117.5" font-size="7.6" fill="#222">+5 В</text>
<line x1="878.1" y1="119" x2="960.8" y2="119" stroke="#333" stroke-width="1"/>
<polygon points="902.3,115.2 902.3,123 895,119.1" fill="#fff" stroke="#222" stroke-width="1"/>
<line x1="894.8" y1="114.1" x2="894.8" y2="124.1" stroke="#222" stroke-width="1.2"/>
<text transform="translate(903.8,117.7) scale(0.87,1)" font-size="8.21" font-style="italic" fill="#222" stroke="#222" stroke-width="0.2">VD1</text>
<text transform="translate(922,117.7) scale(0.87,1)" font-size="7.99" font-style="italic" fill="#222" stroke="#222" stroke-width="0.2">1N4001</text>
<polyline points="957.5,115.5 961,119 957.5,123" fill="none" stroke="#333" stroke-width="1"/>
<text x="965.5" y="122" font-size="7" fill="#222">2</text>
<text x="955.6" y="113.6" font-size="8.4" fill="#222">VCC</text>
<text transform="translate(953.7,102.5) scale(0.87,1)" font-size="8.42" font-style="italic" fill="#222" stroke="#222" stroke-width="0.2">EJ4</text>
<line x1="947" y1="119.6" x2="947" y2="159" stroke="#333" stroke-width="1"/>
<line x1="951" y1="119.6" x2="951" y2="159" stroke="#333" stroke-width="1"/>
<line x1="789.7" y1="159" x2="960.8" y2="159" stroke="#333" stroke-width="1"/>
<polyline points="957.5,155 961,159 957.5,163" fill="none" stroke="#333" stroke-width="1"/>
<text x="957.2" y="153.3" font-size="8.4" fill="#222">GND</text>
<text x="965.5" y="162" font-size="7" fill="#222">1</text>
<circle cx="789.7" cy="119.1" r="2.1" fill="#000"/>
<circle cx="828.8" cy="119.1" r="2.1" fill="#000"/>
<circle cx="917.3" cy="119.1" r="2.1" fill="#000"/>
<circle cx="789.7" cy="159" r="2.1" fill="#000"/>
<circle cx="828.8" cy="159" r="2.1" fill="#000"/>
<circle cx="868.7" cy="159" r="2.1" fill="#000"/>
<circle cx="917.3" cy="159" r="2.1" fill="#000"/>
<line x1="868.5" y1="129.5" x2="868.5" y2="188.5" stroke="#333" stroke-width="1"/>
<line x1="828.8" y1="119.1" x2="828.8" y2="188.5" stroke="#333" stroke-width="1"/>
<rect x="827.8" y="137.8" width="2" height="2.3" fill="#fff"/>
<line x1="820.8" y1="137" x2="836.8" y2="137" stroke="#333" stroke-width="1.05"/>
<line x1="820.8" y1="140.5" x2="836.8" y2="140.5" stroke="#333" stroke-width="1.05"/>
<text x="821.5" y="137" font-size="7.6" fill="#222">+</text>
<text transform="translate(841,142) scale(0.87,1)" font-size="8.21" font-style="italic" fill="#222" stroke="#222" stroke-width="0.2">C21</text>
<text transform="translate(833.5,149) scale(0.87,1)" font-size="7.78" font-style="italic" fill="#222" stroke="#222" stroke-width="0.2">220 мк</text>
<text transform="translate(835.9,157) scale(0.87,1)" font-size="7.78" font-style="italic" fill="#222" stroke="#222" stroke-width="0.2">10 В</text>
<rect x="808.3" y="158" width="2.1" height="2" fill="#fff"/>
<line x1="807.5" y1="151.5" x2="807.5" y2="166.5" stroke="#333" stroke-width="1.05"/>
<line x1="811" y1="151.5" x2="811" y2="166.5" stroke="#333" stroke-width="1.05"/>
<text transform="translate(804.6,149) scale(0.87,1)" font-size="8.21" font-style="italic" fill="#222" stroke="#222" stroke-width="0.2">C1</text>
<line x1="917.5" y1="119.1" x2="917.5" y2="167" stroke="#333" stroke-width="1"/>
<rect x="916.3" y="138.6" width="2" height="2" fill="#fff"/>
<line x1="909.3" y1="138" x2="925.3" y2="138" stroke="#333" stroke-width="1.05"/>
<line x1="909.3" y1="141" x2="925.3" y2="141" stroke="#333" stroke-width="1.05"/>
<text transform="translate(928.4,143) scale(0.87,1)" font-size="8.21" font-style="italic" fill="#222" stroke="#222" stroke-width="0.2">C17</text>
<line x1="912.3" y1="167" x2="923.7" y2="167" stroke="#333" stroke-width="1.2"/>
<text transform="translate(939.6,176.9) scale(0.98,1)" font-size="8.2" font-style="italic" fill="#222" stroke="#222" stroke-width="0.2">DC  IN</text>
<text x="920.4" y="187" font-size="8.3" fill="#222">+9..12V/+5,5V</text>
<text x="783.5" y="187.6" font-size="6.8" fill="#222">6</text>
<text x="823.4" y="187.6" font-size="6.8" fill="#222">7</text>
<text x="863.3" y="187.6" font-size="6.8" fill="#222">9</text>
<text x="11.6" y="186.2" font-size="7" fill="#222">10</text>
<text x="31" y="186.2" font-size="7" fill="#222">11</text>
<text x="51" y="186.2" font-size="7" fill="#222">12</text>
<text x="71.4" y="186.2" font-size="7" fill="#222">16</text>
<text x="91" y="186.2" font-size="7" fill="#222">14</text>
<text x="110" y="186.2" font-size="7" fill="#222">17</text>
<text x="149" y="186.2" font-size="7" fill="#222">20</text>
<text x="189.2" y="186.2" font-size="7" fill="#222">19</text>
<text x="267.7" y="186.2" font-size="7" fill="#222">15</text>
<text x="346.5" y="186.2" font-size="7" fill="#222">18</text>
<text x="409.4" y="186.2" font-size="7" fill="#222">2</text>
<text x="503.8" y="186.2" font-size="7" fill="#222">45</text>
<text x="546" y="186.2" font-size="7" fill="#222">31</text>
<text x="562.9" y="186.2" font-size="7" fill="#222">44</text>
<text x="602.3" y="186.2" font-size="7" fill="#222">43</text>
<text x="641.8" y="186.2" font-size="7" fill="#222">42</text>
<text x="720.8" y="186.2" font-size="7" fill="#222">40</text>
<text x="740.4" y="186.2" font-size="7" fill="#222">24</text>
<text x="760.4" y="186.2" font-size="7" fill="#222">23</text>
<text x="12" y="237" font-size="7" fill="#222">32</text>
<text x="15.4" y="273.9" font-size="7" fill="#222">1</text>
<text x="22" y="237" font-size="7" fill="#222">33</text>
<text x="25.4" y="273.9" font-size="7" fill="#222">2</text>
<text x="32" y="237" font-size="7" fill="#222">34</text>
<text x="35.4" y="273.9" font-size="7" fill="#222">3</text>
<text x="41.9" y="237" font-size="7" fill="#222">35</text>
<text x="45.3" y="273.9" font-size="7" fill="#222">4</text>
<text x="52" y="237" font-size="7" fill="#222">36</text>
<text x="55.4" y="273.9" font-size="7" fill="#222">5</text>
<text x="62" y="237" font-size="7" fill="#222">37</text>
<text x="65.4" y="273.9" font-size="7" fill="#222">6</text>
<text x="71.9" y="237" font-size="7" fill="#222">38</text>
<text x="75.3" y="273.9" font-size="7" fill="#222">7</text>
<rect x="11.4" y="277.7" width="531.5" height="137.7" fill="none" stroke="#444" stroke-width="1" stroke-dasharray="2.5,2.15" stroke-dashoffset="3.4"/>
<line x1="119.5" y1="228.5" x2="119.5" y2="248.3" stroke="#333" stroke-width="1"/>
<line x1="113.9" y1="248.5" x2="125.3" y2="248.5" stroke="#333" stroke-width="1.2"/>
<text x="118" y="237.2" font-size="7" text-anchor="end" fill="#222">1</text>
<line x1="139" y1="228.5" x2="139" y2="248.3" stroke="#333" stroke-width="1"/>
<line x1="133.5" y1="248.5" x2="144.9" y2="248.5" stroke="#333" stroke-width="1.2"/>
<text x="137.6" y="237.2" font-size="7" text-anchor="end" fill="#222">4</text>
<line x1="159" y1="228.5" x2="159" y2="248.3" stroke="#333" stroke-width="1"/>
<line x1="153.1" y1="248.5" x2="164.5" y2="248.5" stroke="#333" stroke-width="1.2"/>
<text x="157.2" y="237.2" font-size="7" text-anchor="end" fill="#222">13</text>
<line x1="179" y1="228.5" x2="179" y2="248.3" stroke="#333" stroke-width="1"/>
<line x1="173.2" y1="248.5" x2="184.6" y2="248.5" stroke="#333" stroke-width="1.2"/>
<text x="177.3" y="237.2" font-size="7" text-anchor="end" fill="#222">30</text>
<line x1="198.5" y1="228.5" x2="198.5" y2="248.3" stroke="#333" stroke-width="1"/>
<line x1="192.7" y1="248.5" x2="204.1" y2="248.5" stroke="#333" stroke-width="1.2"/>
<text x="196.8" y="237.2" font-size="7" text-anchor="end" fill="#222">48</text>
<line x1="238" y1="228.5" x2="238" y2="257.7" stroke="#333" stroke-width="1"/>
<text x="235.5" y="237.2" font-size="7" text-anchor="end" fill="#222">41</text>
<text x="239.6" y="250.6" font-size="6.7" fill="#222">+3,3 В</text>
<text x="239.6" y="262.2" font-size="6.7" fill="#222">+3,0 В</text>
<polyline points="242,252 271.5,252 271.5,262 281.5,262 281.5,252 291,252" fill="none" stroke="#333" stroke-width="1"/>
<line x1="262.2" y1="262" x2="267.8" y2="262" stroke="#333" stroke-width="1"/>
<text x="293.6" y="252.4" font-size="7.4" fill="#222">Работа</text>
<text x="283.4" y="262" font-size="7.1" fill="#222">команда ДУ</text>
<text x="114.8" y="268.2" font-size="2.4" fill="#bbb">sxemy-podnial.net</text>
<text x="114.4" y="265.5" font-size="11.2" font-style="italic" fill="#222" stroke="#222" stroke-width="0.2" textLength="89" lengthAdjust="spacingAndGlyphs">sxemy-podnial.net</text>
<line x1="355.5" y1="228.5" x2="355.5" y2="268.3" stroke="#333" stroke-width="1"/>
<rect x="354.6" y="246.8" width="2" height="2.4" fill="#fff"/>
<line x1="347.6" y1="246" x2="363.6" y2="246" stroke="#333" stroke-width="1.05"/>
<line x1="347.6" y1="250" x2="363.6" y2="250" stroke="#333" stroke-width="1.05"/>
<line x1="349.9" y1="268.5" x2="361.3" y2="268.5" stroke="#333" stroke-width="1.2"/>
<text x="366.2" y="251.8" font-size="8.2" fill="#222">C3</text>
<line x1="415" y1="228.5" x2="415" y2="268.3" stroke="#333" stroke-width="1"/>
<rect x="414.1" y="246.8" width="2" height="2.4" fill="#fff"/>
<line x1="407.1" y1="246" x2="423.1" y2="246" stroke="#333" stroke-width="1.05"/>
<line x1="407.1" y1="250" x2="423.1" y2="250" stroke="#333" stroke-width="1.05"/>
<line x1="409.4" y1="268.5" x2="420.8" y2="268.5" stroke="#333" stroke-width="1.2"/>
<text x="425.7" y="251.8" font-size="8.2" fill="#222">C4</text>
<line x1="513.5" y1="228.5" x2="513.5" y2="268.3" stroke="#333" stroke-width="1"/>
<rect x="512.5" y="246.8" width="2" height="2.4" fill="#fff"/>
<line x1="505.5" y1="246" x2="521.5" y2="246" stroke="#333" stroke-width="1.05"/>
<line x1="505.5" y1="250" x2="521.5" y2="250" stroke="#333" stroke-width="1.05"/>
<line x1="507.8" y1="268.5" x2="519.2" y2="268.5" stroke="#333" stroke-width="1.2"/>
<text transform="translate(524,251.8) scale(0.95,1)" font-size="8.4" font-style="italic" fill="#222" stroke="#222" stroke-width="0.2">C5</text>
<text x="353.5" y="237.2" font-size="7" text-anchor="end" fill="#222">3</text>
<text x="411.2" y="237.2" font-size="7" text-anchor="end" fill="#222">5</text>
<text x="511.5" y="237.2" font-size="7" text-anchor="end" fill="#222">8</text>
<line x1="573.5" y1="228.5" x2="573.5" y2="297.8" stroke="#333" stroke-width="1"/>
<line x1="612.5" y1="228.5" x2="612.5" y2="297.8" stroke="#333" stroke-width="1"/>
<text x="570.4" y="237.3" font-size="7.2" text-anchor="end" fill="#222">46</text>
<text x="609.9" y="237.3" font-size="7.2" text-anchor="end" fill="#222">47</text>
<line x1="573.4" y1="258" x2="612.5" y2="258" stroke="#333" stroke-width="1"/>
<rect x="588.8" y="249" width="7.2" height="17" fill="#fff"/>
<line x1="588.5" y1="249.6" x2="588.5" y2="265.2" stroke="#333" stroke-width="1.2"/>
<line x1="596.5" y1="249.6" x2="596.5" y2="265.2" stroke="#333" stroke-width="1.2"/>
<rect x="590.2" y="250.2" width="4.5" height="14.8" fill="#fff" stroke="#333" stroke-width="1"/>
<circle cx="573.4" cy="258.2" r="2.1" fill="#000"/>
<circle cx="612.5" cy="258.2" r="2.1" fill="#000"/>
<text transform="translate(554.2,257) scale(0.95,1)" font-size="8.4" font-style="italic" fill="#222" stroke="#222" stroke-width="0.2">Y1</text>
<text transform="translate(543.6,265.2) scale(0.95,1)" font-size="8.4" font-style="italic" fill="#222" stroke="#222" stroke-width="0.2">D24.00</text>
<rect x="572.3" y="277" width="2" height="1.5" fill="#fff"/>
<line x1="565.3" y1="276.5" x2="581.3" y2="276.5" stroke="#333" stroke-width="1.05"/>
<line x1="565.3" y1="279" x2="581.3" y2="279" stroke="#333" stroke-width="1.05"/>
<rect x="611.5" y="277" width="2" height="1.5" fill="#fff"/>
<line x1="604.5" y1="276.5" x2="620.5" y2="276.5" stroke="#333" stroke-width="1.05"/>
<line x1="604.5" y1="279" x2="620.5" y2="279" stroke="#333" stroke-width="1.05"/>
<line x1="567.5" y1="298" x2="578.9" y2="298" stroke="#333" stroke-width="1.2"/>
<line x1="607.1" y1="298" x2="618.5" y2="298" stroke="#333" stroke-width="1.2"/>
<text transform="translate(582.9,280.9) scale(0.87,1)" font-size="8.64" font-style="italic" fill="#222" stroke="#222" stroke-width="0.2">C8</text>
<text transform="translate(622.3,280.9) scale(0.87,1)" font-size="8.64" font-style="italic" fill="#222" stroke="#222" stroke-width="0.2">C9</text>
<text x="654.8" y="250.7" font-size="7" fill="#222">к 14 н.</text>
<text transform="translate(678.4,245.8) scale(0.87,1)" font-size="8.21" font-style="italic" fill="#222" stroke="#222" stroke-width="0.2">SAx</text>
<text transform="translate(697.4,245.8) scale(0.87,1)" font-size="8.21" font-style="italic" fill="#222" stroke="#222" stroke-width="0.2">Rx 100 к</text>
<polyline points="664.5,251.5 678,251.5 689.5,258.5" fill="none" stroke="#333" stroke-width="1"/>
<line x1="689.6" y1="251.5" x2="730.8" y2="251.5" stroke="#333" stroke-width="1"/>
<rect x="700.2" y="248.2" width="20.5" height="7.4" fill="#fff" stroke="#333" stroke-width="1"/>
<text x="734" y="254.3" font-size="6.8" fill="#222">+5,0 В</text>
<text x="707.1" y="264.2" font-size="6.8" fill="#222">Выкл. BS</text>
<polyline points="664.5,275.5 683.5,275.5 683.5,265.5 703,265.5" fill="none" stroke="#333" stroke-width="1"/>
<line x1="687.5" y1="275.5" x2="702.9" y2="275.5" stroke="#aaa" stroke-width="1"/>
<text x="707.6" y="276.5" font-size="6.8" fill="#222">Работа</text>
<text x="655.8" y="295.9" font-size="7.05" fill="#222">к 19 (20) н.  Режим AUX</text>
<text x="673.8" y="304.3" font-size="6.8" fill="#222">+1,5 В</text>
<text x="708.6" y="304.3" font-size="6.8" fill="#222">Вкл.</text>
<polyline points="673.8,305.5 697,305.5 697,315 707,315 707,305.5 722,305.5" fill="none" stroke="#333" stroke-width="1"/>
<text x="684.8" y="315.5" font-size="6.8" fill="#222">0 В</text>
<text x="708.6" y="315.5" font-size="6.8" fill="#222">Выкл.</text>
<line x1="20.5" y1="228.5" x2="20.5" y2="406.5" stroke="#333" stroke-width="1"/>
<line x1="30.5" y1="228.5" x2="30.5" y2="386.5" stroke="#333" stroke-width="1"/>
<line x1="40.5" y1="228.5" x2="40.5" y2="366.5" stroke="#333" stroke-width="1"/>
<line x1="50.5" y1="228.5" x2="50.5" y2="347" stroke="#333" stroke-width="1"/>
<line x1="60.5" y1="228.5" x2="60.5" y2="327" stroke="#333" stroke-width="1"/>
<line x1="70.5" y1="228.5" x2="70.5" y2="307.5" stroke="#333" stroke-width="1"/>
<line x1="80.5" y1="228.5" x2="80.5" y2="287.5" stroke="#333" stroke-width="1"/>
<line x1="80.4" y1="287.5" x2="532.9" y2="287.5" stroke="#333" stroke-width="1"/>
<line x1="70.4" y1="307.5" x2="454.4" y2="307.5" stroke="#333" stroke-width="1"/>
<line x1="60.5" y1="327" x2="375.5" y2="327" stroke="#333" stroke-width="1"/>
<line x1="50.3" y1="347" x2="297" y2="347" stroke="#333" stroke-width="1"/>
<line x1="40.4" y1="366.5" x2="217.9" y2="366.5" stroke="#333" stroke-width="1"/>
<line x1="31" y1="386.5" x2="493.5" y2="386.5" stroke="#333" stroke-width="1"/>
<line x1="20.7" y1="406.5" x2="532.9" y2="406.5" stroke="#333" stroke-width="1"/>
<line x1="80.5" y1="287.5" x2="80.5" y2="366.5" stroke="#333" stroke-width="1"/>
<polygon points="76.2,352.6 84.6,352.6 80.4,360.2" fill="#fff" stroke="#333" stroke-width="1"/>
<line x1="75.9" y1="360" x2="84.9" y2="360" stroke="#333" stroke-width="1.1"/>
<text x="76.7" y="358.8" font-size="6.4" text-anchor="end" fill="#222">3d</text>
<line x1="99.5" y1="287.5" x2="99.5" y2="366.5" stroke="#333" stroke-width="1"/>
<polygon points="95.4,360.2 103.8,360.2 99.6,352.6" fill="#fff" stroke="#333" stroke-width="1"/>
<line x1="95.1" y1="352.5" x2="104.1" y2="352.5" stroke="#333" stroke-width="1.1"/>
<text x="95.9" y="358.8" font-size="6.4" text-anchor="end" fill="#222">4d</text>
<line x1="80.5" y1="386.5" x2="80.5" y2="406.5" stroke="#333" stroke-width="1"/>
<polygon points="76.2,392.5 84.6,392.5 80.4,400.1" fill="#fff" stroke="#333" stroke-width="1"/>
<line x1="75.9" y1="400" x2="84.9" y2="400" stroke="#333" stroke-width="1.1"/>
<text x="76.7" y="398.7" font-size="6.4" text-anchor="end" fill="#222">1a</text>
<line x1="99.5" y1="386.5" x2="99.5" y2="406.5" stroke="#333" stroke-width="1"/>
<polygon points="95.4,400.1 103.8,400.1 99.6,392.5" fill="#fff" stroke="#333" stroke-width="1"/>
<line x1="95.1" y1="392.5" x2="104.1" y2="392.5" stroke="#333" stroke-width="1.1"/>
<text x="95.9" y="398.7" font-size="6.4" text-anchor="end" fill="#222">2a</text>
<line x1="119.5" y1="307.5" x2="119.5" y2="366.5" stroke="#333" stroke-width="1"/>
<polygon points="115.2,352.6 123.6,352.6 119.4,360.2" fill="#fff" stroke="#333" stroke-width="1"/>
<line x1="114.9" y1="360" x2="123.9" y2="360" stroke="#333" stroke-width="1.1"/>
<text x="115.7" y="358.8" font-size="6.4" text-anchor="end" fill="#222">3c</text>
<line x1="139" y1="307.5" x2="139" y2="366.5" stroke="#333" stroke-width="1"/>
<polygon points="134.8,360.2 143.2,360.2 139,352.6" fill="#fff" stroke="#333" stroke-width="1"/>
<line x1="134.5" y1="352.5" x2="143.5" y2="352.5" stroke="#333" stroke-width="1.1"/>
<text x="135.3" y="358.8" font-size="6.4" text-anchor="end" fill="#222">4c</text>
<line x1="119.5" y1="366.5" x2="119.5" y2="386.5" stroke="#333" stroke-width="1"/>
<polygon points="115.2,372.2 123.6,372.2 119.4,379.8" fill="#fff" stroke="#333" stroke-width="1"/>
<line x1="114.9" y1="380" x2="123.9" y2="380" stroke="#333" stroke-width="1.1"/>
<text x="115.7" y="378.4" font-size="6.4" text-anchor="end" fill="#222">1g</text>
<line x1="139" y1="366.5" x2="139" y2="386.5" stroke="#333" stroke-width="1"/>
<polygon points="134.8,379.8 143.2,379.8 139,372.2" fill="#fff" stroke="#333" stroke-width="1"/>
<line x1="134.5" y1="372" x2="143.5" y2="372" stroke="#333" stroke-width="1.1"/>
<text x="135.3" y="378.4" font-size="6.4" text-anchor="end" fill="#222">2g</text>
<line x1="158.5" y1="327" x2="158.5" y2="366.5" stroke="#333" stroke-width="1"/>
<polygon points="154.5,352.6 162.9,352.6 158.7,360.2" fill="#fff" stroke="#333" stroke-width="1"/>
<line x1="154.2" y1="360" x2="163.2" y2="360" stroke="#333" stroke-width="1.1"/>
<text x="155" y="358.8" font-size="6.4" text-anchor="end" fill="#222">3b</text>
<line x1="178.5" y1="327" x2="178.5" y2="366.5" stroke="#333" stroke-width="1"/>
<polygon points="174.2,360.2 182.6,360.2 178.4,352.6" fill="#fff" stroke="#333" stroke-width="1"/>
<line x1="173.9" y1="352.5" x2="182.9" y2="352.5" stroke="#333" stroke-width="1.1"/>
<text x="174.7" y="358.8" font-size="6.4" text-anchor="end" fill="#222">4b</text>
<line x1="158.5" y1="366.5" x2="158.5" y2="406.5" stroke="#333" stroke-width="1"/>
<polygon points="154.5,392.5 162.9,392.5 158.7,400.1" fill="#fff" stroke="#333" stroke-width="1"/>
<line x1="154.2" y1="400" x2="163.2" y2="400" stroke="#333" stroke-width="1.1"/>
<text x="155" y="398.7" font-size="6.4" text-anchor="end" fill="#222">1b</text>
<line x1="178.5" y1="366.5" x2="178.5" y2="406.5" stroke="#333" stroke-width="1"/>
<polygon points="174.2,400.1 182.6,400.1 178.4,392.5" fill="#fff" stroke="#333" stroke-width="1"/>
<line x1="173.9" y1="392.5" x2="182.9" y2="392.5" stroke="#333" stroke-width="1.1"/>
<text x="174.7" y="398.7" font-size="6.4" text-anchor="end" fill="#222">2b</text>
<line x1="198" y1="327" x2="198" y2="347" stroke="#333" stroke-width="1"/>
<polygon points="194,332.8 202.4,332.8 198.2,340.4" fill="#fff" stroke="#333" stroke-width="1"/>
<line x1="193.7" y1="340.5" x2="202.7" y2="340.5" stroke="#333" stroke-width="1.1"/>
<text x="194.5" y="339" font-size="6.4" text-anchor="end" fill="#222">3e</text>
<line x1="218" y1="327" x2="218" y2="347" stroke="#333" stroke-width="1"/>
<polygon points="213.7,340.4 222.1,340.4 217.9,332.8" fill="#fff" stroke="#333" stroke-width="1"/>
<line x1="213.4" y1="333" x2="222.4" y2="333" stroke="#333" stroke-width="1.1"/>
<text x="214.2" y="339" font-size="6.4" text-anchor="end" fill="#222">4e</text>
<line x1="198" y1="347" x2="198" y2="366.5" stroke="#333" stroke-width="1"/>
<polygon points="194,352.6 202.4,352.6 198.2,360.2" fill="#fff" stroke="#333" stroke-width="1"/>
<line x1="193.7" y1="360" x2="202.7" y2="360" stroke="#333" stroke-width="1.1"/>
<text x="194.5" y="358.8" font-size="6.4" text-anchor="end" fill="#222">3a</text>
<line x1="218" y1="347" x2="218" y2="366.5" stroke="#333" stroke-width="1"/>
<polygon points="213.7,360.2 222.1,360.2 217.9,352.6" fill="#fff" stroke="#333" stroke-width="1"/>
<line x1="213.4" y1="352.5" x2="222.4" y2="352.5" stroke="#333" stroke-width="1.1"/>
<text x="214.2" y="358.8" font-size="6.4" text-anchor="end" fill="#222">4a</text>
<line x1="237.5" y1="307.5" x2="237.5" y2="347" stroke="#333" stroke-width="1"/>
<polygon points="233.4,332.8 241.8,332.8 237.6,340.4" fill="#fff" stroke="#333" stroke-width="1"/>
<line x1="233.1" y1="340.5" x2="242.1" y2="340.5" stroke="#333" stroke-width="1.1"/>
<text x="233.9" y="339" font-size="6.4" text-anchor="end" fill="#222">3f</text>
<line x1="257.5" y1="307.5" x2="257.5" y2="347" stroke="#333" stroke-width="1"/>
<polygon points="253.1,340.4 261.5,340.4 257.3,332.8" fill="#fff" stroke="#333" stroke-width="1"/>
<line x1="252.8" y1="333" x2="261.8" y2="333" stroke="#333" stroke-width="1.1"/>
<text x="253.6" y="339" font-size="6.4" text-anchor="end" fill="#222">4f</text>
<line x1="237.5" y1="347" x2="237.5" y2="386.5" stroke="#333" stroke-width="1"/>
<polygon points="233.4,372.2 241.8,372.2 237.6,379.8" fill="#fff" stroke="#333" stroke-width="1"/>
<line x1="233.1" y1="380" x2="242.1" y2="380" stroke="#333" stroke-width="1.1"/>
<polygon points="227.2,373.8 230.6,376 227.2,378.2" fill="#000" stroke="#000" stroke-width="0.5"/>
<line x1="257.5" y1="347" x2="257.5" y2="386.5" stroke="#333" stroke-width="1"/>
<polygon points="253.1,379.8 261.5,379.8 257.3,372.2" fill="#fff" stroke="#333" stroke-width="1"/>
<line x1="252.8" y1="372" x2="261.8" y2="372" stroke="#333" stroke-width="1.1"/>
<rect x="249.2" y="373.8" width="1.8" height="1.6" fill="#000"/>
<rect x="249.2" y="376.8" width="1.8" height="1.6" fill="#000"/>
<line x1="277" y1="287.5" x2="277" y2="347" stroke="#333" stroke-width="1"/>
<polygon points="272.7,332.8 281.1,332.8 276.9,340.4" fill="#fff" stroke="#333" stroke-width="1"/>
<line x1="272.4" y1="340.5" x2="281.4" y2="340.5" stroke="#333" stroke-width="1.1"/>
<text x="273.2" y="339" font-size="6.4" text-anchor="end" fill="#222">3g</text>
<line x1="297" y1="287.5" x2="297" y2="347" stroke="#333" stroke-width="1"/>
<polygon points="292.8,340.4 301.2,340.4 297,332.8" fill="#fff" stroke="#333" stroke-width="1"/>
<line x1="292.5" y1="333" x2="301.5" y2="333" stroke="#333" stroke-width="1.1"/>
<text x="293.3" y="339" font-size="6.4" text-anchor="end" fill="#222">4g</text>
<line x1="277" y1="347" x2="277" y2="406.5" stroke="#333" stroke-width="1"/>
<polygon points="272.7,392.5 281.1,392.5 276.9,400.1" fill="#fff" stroke="#333" stroke-width="1"/>
<line x1="272.4" y1="400" x2="281.4" y2="400" stroke="#333" stroke-width="1.1"/>
<text x="273.2" y="398.7" font-size="6.4" text-anchor="end" fill="#222">1c</text>
<line x1="297" y1="347" x2="297" y2="406.5" stroke="#333" stroke-width="1"/>
<polygon points="292.8,400.1 301.2,400.1 297,392.5" fill="#fff" stroke="#333" stroke-width="1"/>
<line x1="292.5" y1="392.5" x2="301.5" y2="392.5" stroke="#333" stroke-width="1.1"/>
<text x="293.3" y="398.7" font-size="6.4" text-anchor="end" fill="#222">2c</text>
<line x1="316.5" y1="327" x2="316.5" y2="386.5" stroke="#333" stroke-width="1"/>
<polygon points="312.1,372.2 320.5,372.2 316.3,379.8" fill="#fff" stroke="#333" stroke-width="1"/>
<line x1="311.8" y1="380" x2="320.8" y2="380" stroke="#333" stroke-width="1.1"/>
<rect x="308.6" y="373.6" width="1.3" height="4.8" fill="#000"/>
<rect x="311" y="373.6" width="1.3" height="4.8" fill="#000"/>
<line x1="336.5" y1="327" x2="336.5" y2="386.5" stroke="#333" stroke-width="1"/>
<polygon points="332.2,379.8 340.6,379.8 336.4,372.2" fill="#fff" stroke="#333" stroke-width="1"/>
<line x1="331.9" y1="372" x2="340.9" y2="372" stroke="#333" stroke-width="1.1"/>
<rect x="330.6" y="375.1" width="1.8" height="1.8" fill="#000"/>
<line x1="356" y1="327" x2="356" y2="406.5" stroke="#333" stroke-width="1"/>
<polygon points="351.9,392.5 360.3,392.5 356.1,400.1" fill="#fff" stroke="#333" stroke-width="1"/>
<line x1="351.6" y1="400" x2="360.6" y2="400" stroke="#333" stroke-width="1.1"/>
<text x="352.4" y="398.7" font-size="6.4" text-anchor="end" fill="#222">1d</text>
<line x1="375.5" y1="327" x2="375.5" y2="406.5" stroke="#333" stroke-width="1"/>
<polygon points="371.3,400.1 379.7,400.1 375.5,392.5" fill="#fff" stroke="#333" stroke-width="1"/>
<line x1="371" y1="392.5" x2="380" y2="392.5" stroke="#333" stroke-width="1.1"/>
<text x="371.8" y="398.7" font-size="6.4" text-anchor="end" fill="#222">2d</text>
<line x1="395.5" y1="307.5" x2="395.5" y2="386.5" stroke="#333" stroke-width="1"/>
<polygon points="391.4,372.2 399.8,372.2 395.6,379.8" fill="#fff" stroke="#333" stroke-width="1"/>
<line x1="391.1" y1="380" x2="400.1" y2="380" stroke="#333" stroke-width="1.1"/>
<text x="391.9" y="378.4" font-size="6.4" text-anchor="end" fill="#222">usb</text>
<line x1="415" y1="307.5" x2="415" y2="386.5" stroke="#333" stroke-width="1"/>
<polygon points="410.8,379.8 419.2,379.8 415,372.2" fill="#fff" stroke="#333" stroke-width="1"/>
<line x1="410.5" y1="372" x2="419.5" y2="372" stroke="#333" stroke-width="1.1"/>
<text x="411.3" y="378.4" font-size="6.4" text-anchor="end" fill="#222">fm</text>
<line x1="435" y1="307.5" x2="435" y2="406.5" stroke="#333" stroke-width="1"/>
<polygon points="430.8,392.5 439.2,392.5 435,400.1" fill="#fff" stroke="#333" stroke-width="1"/>
<line x1="430.5" y1="400" x2="439.5" y2="400" stroke="#333" stroke-width="1.1"/>
<text x="431.3" y="398.7" font-size="6.4" text-anchor="end" fill="#222">1e</text>
<line x1="454.5" y1="307.5" x2="454.5" y2="406.5" stroke="#333" stroke-width="1"/>
<polygon points="450.2,400.1 458.6,400.1 454.4,392.5" fill="#fff" stroke="#333" stroke-width="1"/>
<line x1="449.9" y1="392.5" x2="458.9" y2="392.5" stroke="#333" stroke-width="1.1"/>
<text x="450.7" y="398.7" font-size="6.4" text-anchor="end" fill="#222">2e</text>
<line x1="474" y1="287.5" x2="474" y2="386.5" stroke="#333" stroke-width="1"/>
<polygon points="469.9,372.2 478.3,372.2 474.1,379.8" fill="#fff" stroke="#333" stroke-width="1"/>
<line x1="469.6" y1="380" x2="478.6" y2="380" stroke="#333" stroke-width="1.1"/>
<text x="470.4" y="378.4" font-size="6.4" text-anchor="end" fill="#222">sd</text>
<line x1="493.5" y1="287.5" x2="493.5" y2="386.5" stroke="#333" stroke-width="1"/>
<polygon points="489.3,379.8 497.7,379.8 493.5,372.2" fill="#fff" stroke="#333" stroke-width="1"/>
<line x1="489" y1="372" x2="498" y2="372" stroke="#333" stroke-width="1.1"/>
<text x="489.8" y="378.4" font-size="6.4" text-anchor="end" fill="#222">mp3</text>
<line x1="513.5" y1="287.5" x2="513.5" y2="406.5" stroke="#333" stroke-width="1"/>
<polygon points="509.3,392.5 517.7,392.5 513.5,400.1" fill="#fff" stroke="#333" stroke-width="1"/>
<line x1="509" y1="400" x2="518" y2="400" stroke="#333" stroke-width="1.1"/>
<text x="509.8" y="398.7" font-size="6.4" text-anchor="end" fill="#222">1f</text>
<line x1="533" y1="287.5" x2="533" y2="406.5" stroke="#333" stroke-width="1"/>
<polygon points="528.7,400.1 537.1,400.1 532.9,392.5" fill="#fff" stroke="#333" stroke-width="1"/>
<line x1="528.4" y1="392.5" x2="537.4" y2="392.5" stroke="#333" stroke-width="1.1"/>
<text x="529.2" y="398.7" font-size="6.4" text-anchor="end" fill="#222">2f</text>
<circle cx="217.9" cy="327" r="2.2" fill="#000"/>
<circle cx="435" cy="406.5" r="2.2" fill="#000"/>
<circle cx="178.4" cy="406.5" r="2.2" fill="#000"/>
<circle cx="119.4" cy="366.5" r="2.2" fill="#000"/>
<circle cx="80.4" cy="386.5" r="2.2" fill="#000"/>
<circle cx="257.3" cy="347" r="2.2" fill="#000"/>
<circle cx="178.4" cy="366.5" r="2.2" fill="#000"/>
<circle cx="139" cy="386.5" r="2.2" fill="#000"/>
<circle cx="297" cy="347" r="2.2" fill="#000"/>
<circle cx="454.4" cy="406.5" r="2.2" fill="#000"/>
<circle cx="276.9" cy="347" r="2.2" fill="#000"/>
<circle cx="257.3" cy="307.5" r="2.2" fill="#000"/>
<circle cx="474.1" cy="287.5" r="2.2" fill="#000"/>
<circle cx="257.3" cy="386.5" r="2.2" fill="#000"/>
<circle cx="395.6" cy="307.5" r="2.2" fill="#000"/>
<circle cx="99.6" cy="386.5" r="2.2" fill="#000"/>
<circle cx="395.6" cy="386.5" r="2.2" fill="#000"/>
<circle cx="336.4" cy="386.5" r="2.2" fill="#000"/>
<circle cx="119.4" cy="307.5" r="2.2" fill="#000"/>
<circle cx="513.5" cy="287.5" r="2.2" fill="#000"/>
<circle cx="158.7" cy="327" r="2.2" fill="#000"/>
<circle cx="513.5" cy="406.5" r="2.2" fill="#000"/>
<circle cx="217.9" cy="347" r="2.2" fill="#000"/>
<circle cx="493.5" cy="287.5" r="2.2" fill="#000"/>
<circle cx="119.4" cy="386.5" r="2.2" fill="#000"/>
<circle cx="316.3" cy="386.5" r="2.2" fill="#000"/>
<circle cx="435" cy="307.5" r="2.2" fill="#000"/>
<circle cx="198.2" cy="327" r="2.2" fill="#000"/>
<circle cx="80.4" cy="287.5" r="2.2" fill="#000"/>
<circle cx="80.4" cy="406.5" r="2.2" fill="#000"/>
<circle cx="158.7" cy="406.5" r="2.2" fill="#000"/>
<circle cx="415" cy="307.5" r="2.2" fill="#000"/>
<circle cx="237.6" cy="347" r="2.2" fill="#000"/>
<circle cx="356.1" cy="327" r="2.2" fill="#000"/>
<circle cx="80.4" cy="366.5" r="2.2" fill="#000"/>
<circle cx="139" cy="366.5" r="2.2" fill="#000"/>
<circle cx="158.7" cy="366.5" r="2.2" fill="#000"/>
<circle cx="237.6" cy="307.5" r="2.2" fill="#000"/>
<circle cx="415" cy="386.5" r="2.2" fill="#000"/>
<circle cx="198.2" cy="366.5" r="2.2" fill="#000"/>
<circle cx="336.4" cy="327" r="2.2" fill="#000"/>
<circle cx="356.1" cy="406.5" r="2.2" fill="#000"/>
<circle cx="474.1" cy="386.5" r="2.2" fill="#000"/>
<circle cx="99.6" cy="406.5" r="2.2" fill="#000"/>
<circle cx="297" cy="287.5" r="2.2" fill="#000"/>
<circle cx="237.6" cy="386.5" r="2.2" fill="#000"/>
<circle cx="276.9" cy="287.5" r="2.2" fill="#000"/>
<circle cx="276.9" cy="406.5" r="2.2" fill="#000"/>
<circle cx="297" cy="406.5" r="2.2" fill="#000"/>
<circle cx="99.6" cy="287.5" r="2.2" fill="#000"/>
<circle cx="316.3" cy="327" r="2.2" fill="#000"/>
<circle cx="99.6" cy="366.5" r="2.2" fill="#000"/>
<circle cx="178.4" cy="327" r="2.2" fill="#000"/>
<circle cx="198.2" cy="347" r="2.2" fill="#000"/>
<circle cx="375.5" cy="406.5" r="2.2" fill="#000"/>
<circle cx="139" cy="307.5" r="2.2" fill="#000"/>
<rect x="573.3" y="347.4" width="278.4" height="68" rx="2" fill="#fff" stroke="#111" stroke-width="1.7"/>
<line x1="651.5" y1="341.2" x2="651.5" y2="347.4" stroke="#222" stroke-width="1"/>
<text x="653.3" y="344.4" font-size="6.4" fill="#222">1</text>
<line x1="671.5" y1="341.2" x2="671.5" y2="347.4" stroke="#222" stroke-width="1"/>
<text x="673" y="344.4" font-size="6.4" fill="#222">2</text>
<line x1="691.5" y1="341.2" x2="691.5" y2="347.4" stroke="#222" stroke-width="1"/>
<text x="692.9" y="344.4" font-size="6.4" fill="#222">3</text>
<line x1="711" y1="341.2" x2="711" y2="347.4" stroke="#222" stroke-width="1"/>
<text x="712.5" y="344.4" font-size="6.4" fill="#222">4</text>
<line x1="730.8" y1="341.2" x2="730.8" y2="347.4" stroke="#222" stroke-width="1"/>
<text x="732.4" y="344.4" font-size="6.4" fill="#222">5</text>
<line x1="750.5" y1="341.2" x2="750.5" y2="347.4" stroke="#222" stroke-width="1"/>
<text x="752" y="344.4" font-size="6.4" fill="#222">6</text>
<line x1="770.5" y1="341.2" x2="770.5" y2="347.4" stroke="#222" stroke-width="1"/>
<text x="772" y="344.4" font-size="6.4" fill="#222">7</text>
<polygon points="584.7,363.4 592.6,368.8 584.7,374.2" fill="#000" stroke="#000" stroke-width="0.5"/>
<text x="599.2" y="374.4" font-size="15" fill="#222" stroke="#222" stroke-width="0.25">USB</text>
<rect x="584.9" y="389.6" width="2.4" height="10.6" fill="#000"/>
<rect x="590.1" y="389.6" width="2.4" height="10.6" fill="#000"/>
<text x="602.4" y="400.3" font-size="15" fill="#222" stroke="#222" stroke-width="0.25">SD</text>
<text x="814.4" y="374.4" font-size="14.8" fill="#222" stroke="#222" stroke-width="0.25">FM</text>
<text x="810.2" y="399.4" font-size="15.3" fill="#222" stroke="#222" stroke-width="0.25">MP3</text>
<polygon points="644.7,356.45 646.85,354.3 665.15,354.3 667.3,356.45 665.15,358.6 646.85,358.6" fill="#000"/>
<polygon points="644.7,380.3 646.65,378.35 665.35,378.35 667.3,380.3 665.35,382.25 646.65,382.25" fill="#000"/>
<polygon points="644.7,404.5 646.85,402.35 665.15,402.35 667.3,404.5 665.15,406.65 646.85,406.65" fill="#000"/>
<polygon points="644,357.8 646.1,359.9 646.1,376.7 644,378.8 641.9,376.7 641.9,359.9" fill="#000"/>
<polygon points="667.9,357.8 670,359.9 670,376.7 667.9,378.8 665.8,376.7 665.8,359.9" fill="#000"/>
<polygon points="644,382 646.1,384.1 646.1,400.9 644,403 641.9,400.9 641.9,384.1" fill="#000"/>
<polygon points="667.9,382 670,384.1 670,400.9 667.9,403 665.8,400.9 665.8,384.1" fill="#000"/>
<text x="655.7" y="365.4" font-size="7.2" text-anchor="middle" fill="#222">a</text>
<text x="648.7" y="371" font-size="7.2" text-anchor="middle" fill="#222">f</text>
<text x="661.3" y="371" font-size="7.2" text-anchor="middle" fill="#222">b</text>
<text x="655.7" y="376" font-size="7.2" text-anchor="middle" fill="#222">g</text>
<text x="648.7" y="395.2" font-size="7.2" text-anchor="middle" fill="#222">e</text>
<text x="661.3" y="395" font-size="7.2" text-anchor="middle" fill="#222">c</text>
<text x="655.7" y="401" font-size="7.2" text-anchor="middle" fill="#222">d</text>
<text x="655.5" y="412.2" font-size="5.6" text-anchor="middle" fill="#222">1</text>
<polygon points="688.1,356.45 690.25,354.3 708.55,354.3 710.7,356.45 708.55,358.6 690.25,358.6" fill="#000"/>
<polygon points="688.1,380.3 690.05,378.35 708.75,378.35 710.7,380.3 708.75,382.25 690.05,382.25" fill="#000"/>
<polygon points="688.1,404.5 690.25,402.35 708.55,402.35 710.7,404.5 708.55,406.65 690.25,406.65" fill="#000"/>
<polygon points="687.4,357.8 689.5,359.9 689.5,376.7 687.4,378.8 685.3,376.7 685.3,359.9" fill="#000"/>
<polygon points="711.3,357.8 713.4,359.9 713.4,376.7 711.3,378.8 709.2,376.7 709.2,359.9" fill="#000"/>
<polygon points="687.4,382 689.5,384.1 689.5,400.9 687.4,403 685.3,400.9 685.3,384.1" fill="#000"/>
<polygon points="711.3,382 713.4,384.1 713.4,400.9 711.3,403 709.2,400.9 709.2,384.1" fill="#000"/>
<text x="699.1" y="365.4" font-size="7.2" text-anchor="middle" fill="#222">a</text>
<text x="692.1" y="371" font-size="7.2" text-anchor="middle" fill="#222">f</text>
<text x="704.7" y="371" font-size="7.2" text-anchor="middle" fill="#222">b</text>
<text x="699.1" y="376" font-size="7.2" text-anchor="middle" fill="#222">g</text>
<text x="692.1" y="395.2" font-size="7.2" text-anchor="middle" fill="#222">e</text>
<text x="704.7" y="395" font-size="7.2" text-anchor="middle" fill="#222">c</text>
<text x="699.1" y="401" font-size="7.2" text-anchor="middle" fill="#222">d</text>
<text x="698.9" y="412.2" font-size="5.6" text-anchor="middle" fill="#222">2</text>
<polygon points="731,356.45 733.15,354.3 751.45,354.3 753.6,356.45 751.45,358.6 733.15,358.6" fill="#000"/>
<polygon points="731,380.3 732.95,378.35 751.65,378.35 753.6,380.3 751.65,382.25 732.95,382.25" fill="#000"/>
<polygon points="731,404.5 733.15,402.35 751.45,402.35 753.6,404.5 751.45,406.65 733.15,406.65" fill="#000"/>
<polygon points="730.3,357.8 732.4,359.9 732.4,376.7 730.3,378.8 728.2,376.7 728.2,359.9" fill="#000"/>
<polygon points="754.2,357.8 756.3,359.9 756.3,376.7 754.2,378.8 752.1,376.7 752.1,359.9" fill="#000"/>
<polygon points="730.3,382 732.4,384.1 732.4,400.9 730.3,403 728.2,400.9 728.2,384.1" fill="#000"/>
<polygon points="754.2,382 756.3,384.1 756.3,400.9 754.2,403 752.1,400.9 752.1,384.1" fill="#000"/>
<text x="742" y="365.4" font-size="7.2" text-anchor="middle" fill="#222">a</text>
<text x="735" y="371" font-size="7.2" text-anchor="middle" fill="#222">f</text>
<text x="747.6" y="371" font-size="7.2" text-anchor="middle" fill="#222">b</text>
<text x="742" y="376" font-size="7.2" text-anchor="middle" fill="#222">g</text>
<text x="735" y="395.2" font-size="7.2" text-anchor="middle" fill="#222">e</text>
<text x="747.6" y="395" font-size="7.2" text-anchor="middle" fill="#222">c</text>
<text x="742" y="401" font-size="7.2" text-anchor="middle" fill="#222">d</text>
<text x="741.8" y="412.2" font-size="5.6" text-anchor="middle" fill="#222">3</text>
<polygon points="774.4,356.45 776.55,354.3 794.85,354.3 797,356.45 794.85,358.6 776.55,358.6" fill="#000"/>
<polygon points="774.4,380.3 776.35,378.35 795.05,378.35 797,380.3 795.05,382.25 776.35,382.25" fill="#000"/>
<polygon points="774.4,404.5 776.55,402.35 794.85,402.35 797,404.5 794.85,406.65 776.55,406.65" fill="#000"/>
<polygon points="773.7,357.8 775.8,359.9 775.8,376.7 773.7,378.8 771.6,376.7 771.6,359.9" fill="#000"/>
<polygon points="797.6,357.8 799.7,359.9 799.7,376.7 797.6,378.8 795.5,376.7 795.5,359.9" fill="#000"/>
<polygon points="773.7,382 775.8,384.1 775.8,400.9 773.7,403 771.6,400.9 771.6,384.1" fill="#000"/>
<polygon points="797.6,382 799.7,384.1 799.7,400.9 797.6,403 795.5,400.9 795.5,384.1" fill="#000"/>
<text x="785.4" y="365.4" font-size="7.2" text-anchor="middle" fill="#222">a</text>
<text x="778.4" y="371" font-size="7.2" text-anchor="middle" fill="#222">f</text>
<text x="791" y="371" font-size="7.2" text-anchor="middle" fill="#222">b</text>
<text x="785.4" y="376" font-size="7.2" text-anchor="middle" fill="#222">g</text>
<text x="778.4" y="395.2" font-size="7.2" text-anchor="middle" fill="#222">e</text>
<text x="791" y="395" font-size="7.2" text-anchor="middle" fill="#222">c</text>
<text x="785.4" y="401" font-size="7.2" text-anchor="middle" fill="#222">d</text>
<text x="785.2" y="412.2" font-size="5.6" text-anchor="middle" fill="#222">4</text>
<circle cx="721" cy="376.3" r="2" fill="#000"/>
<circle cx="721" cy="384.2" r="2" fill="#000"/>
<circle cx="764" cy="404.3" r="2" fill="#000"/>
<polygon points="788.2,250 852.9,250 852.9,319.2 778.1,319.2 778.1,259.2" fill="#fff" stroke="#333" stroke-width="1"/>
<text x="809.6" y="245.8" font-size="8.2" fill="#222">SD</text>
<rect x="783.3" y="257.5" width="2.4" height="7.9" fill="#fff" stroke="#333" stroke-width="0.9"/>
<text x="784.8" y="274.4" font-size="7" text-anchor="middle" fill="#222">1</text>
<rect x="791.2" y="253.9" width="2.4" height="8.5" fill="#fff" stroke="#333" stroke-width="0.9"/>
<text x="792.8" y="270.6" font-size="7" text-anchor="middle" fill="#222">2</text>
<rect x="799.2" y="253.9" width="2.4" height="8.5" fill="#fff" stroke="#333" stroke-width="0.9"/>
<text x="800.8" y="270.6" font-size="7" text-anchor="middle" fill="#222">3</text>
<rect x="807.2" y="253.9" width="2.4" height="8.5" fill="#fff" stroke="#333" stroke-width="0.9"/>
<text x="808.8" y="270.6" font-size="7" text-anchor="middle" fill="#222">4</text>
<rect x="815.2" y="253.9" width="2.4" height="8.5" fill="#fff" stroke="#333" stroke-width="0.9"/>
<text x="816.8" y="270.6" font-size="7" text-anchor="middle" fill="#222">5</text>
<rect x="823.2" y="253.9" width="2.4" height="8.5" fill="#fff" stroke="#333" stroke-width="0.9"/>
<text x="824.8" y="270.6" font-size="7" text-anchor="middle" fill="#222">6</text>
<rect x="831.2" y="253.9" width="2.4" height="8.5" fill="#fff" stroke="#333" stroke-width="0.9"/>
<text x="832.8" y="270.6" font-size="7" text-anchor="middle" fill="#222">7</text>
<rect x="839.2" y="253.9" width="2.4" height="8.5" fill="#fff" stroke="#333" stroke-width="0.9"/>
<text x="840.8" y="270.6" font-size="7" text-anchor="middle" fill="#222">8</text>
<rect x="847.2" y="253.9" width="2.4" height="8.5" fill="#fff" stroke="#333" stroke-width="0.9"/>
<text x="848.8" y="270.6" font-size="7" text-anchor="middle" fill="#222">9</text>
<rect x="912.3" y="214.3" width="51.4" height="50.7" fill="#fff" stroke="#333" stroke-width="1"/>
<line x1="916.5" y1="204.4" x2="916.5" y2="214.3" stroke="#333" stroke-width="0.9"/>
<line x1="916.5" y1="265" x2="916.5" y2="275.6" stroke="#333" stroke-width="0.9"/>
<line x1="903" y1="219" x2="912.3" y2="219" stroke="#333" stroke-width="0.9"/>
<line x1="963.7" y1="219" x2="973.2" y2="219" stroke="#333" stroke-width="0.9"/>
<line x1="920.5" y1="204.4" x2="920.5" y2="214.3" stroke="#333" stroke-width="0.9"/>
<line x1="920.5" y1="265" x2="920.5" y2="275.6" stroke="#333" stroke-width="0.9"/>
<line x1="903" y1="223" x2="912.3" y2="223" stroke="#333" stroke-width="0.9"/>
<line x1="963.7" y1="223" x2="973.2" y2="223" stroke="#333" stroke-width="0.9"/>
<line x1="924.27" y1="204.4" x2="924.27" y2="214.3" stroke="#333" stroke-width="0.9"/>
<line x1="924.27" y1="265" x2="924.27" y2="275.6" stroke="#333" stroke-width="0.9"/>
<line x1="903" y1="226.76" x2="912.3" y2="226.76" stroke="#333" stroke-width="0.9"/>
<line x1="963.7" y1="226.76" x2="973.2" y2="226.76" stroke="#333" stroke-width="0.9"/>
<line x1="928" y1="204.4" x2="928" y2="214.3" stroke="#333" stroke-width="0.9"/>
<line x1="928" y1="265" x2="928" y2="275.6" stroke="#333" stroke-width="0.9"/>
<line x1="903" y1="230.5" x2="912.3" y2="230.5" stroke="#333" stroke-width="0.9"/>
<line x1="963.7" y1="230.5" x2="973.2" y2="230.5" stroke="#333" stroke-width="0.9"/>
<line x1="932" y1="204.4" x2="932" y2="214.3" stroke="#333" stroke-width="0.9"/>
<line x1="932" y1="265" x2="932" y2="275.6" stroke="#333" stroke-width="0.9"/>
<line x1="903" y1="234.5" x2="912.3" y2="234.5" stroke="#333" stroke-width="0.9"/>
<line x1="963.7" y1="234.5" x2="973.2" y2="234.5" stroke="#333" stroke-width="0.9"/>
<line x1="935.78" y1="204.4" x2="935.78" y2="214.3" stroke="#333" stroke-width="0.9"/>
<line x1="935.78" y1="265" x2="935.78" y2="275.6" stroke="#333" stroke-width="0.9"/>
<line x1="903" y1="238" x2="912.3" y2="238" stroke="#333" stroke-width="0.9"/>
<line x1="963.7" y1="238" x2="973.2" y2="238" stroke="#333" stroke-width="0.9"/>
<line x1="939.5" y1="204.4" x2="939.5" y2="214.3" stroke="#333" stroke-width="0.9"/>
<line x1="939.5" y1="265" x2="939.5" y2="275.6" stroke="#333" stroke-width="0.9"/>
<line x1="903" y1="242" x2="912.3" y2="242" stroke="#333" stroke-width="0.9"/>
<line x1="963.7" y1="242" x2="973.2" y2="242" stroke="#333" stroke-width="0.9"/>
<line x1="943.5" y1="204.4" x2="943.5" y2="214.3" stroke="#333" stroke-width="0.9"/>
<line x1="943.5" y1="265" x2="943.5" y2="275.6" stroke="#333" stroke-width="0.9"/>
<line x1="903" y1="245.5" x2="912.3" y2="245.5" stroke="#333" stroke-width="0.9"/>
<line x1="963.7" y1="245.5" x2="973.2" y2="245.5" stroke="#333" stroke-width="0.9"/>
<line x1="947.5" y1="204.4" x2="947.5" y2="214.3" stroke="#333" stroke-width="0.9"/>
<line x1="947.5" y1="265" x2="947.5" y2="275.6" stroke="#333" stroke-width="0.9"/>
<line x1="903" y1="249.5" x2="912.3" y2="249.5" stroke="#333" stroke-width="0.9"/>
<line x1="963.7" y1="249.5" x2="973.2" y2="249.5" stroke="#333" stroke-width="0.9"/>
<line x1="951" y1="204.4" x2="951" y2="214.3" stroke="#333" stroke-width="0.9"/>
<line x1="951" y1="265" x2="951" y2="275.6" stroke="#333" stroke-width="0.9"/>
<line x1="903" y1="253.22" x2="912.3" y2="253.22" stroke="#333" stroke-width="0.9"/>
<line x1="963.7" y1="253.22" x2="973.2" y2="253.22" stroke="#333" stroke-width="0.9"/>
<line x1="955" y1="204.4" x2="955" y2="214.3" stroke="#333" stroke-width="0.9"/>
<line x1="955" y1="265" x2="955" y2="275.6" stroke="#333" stroke-width="0.9"/>
<line x1="903" y1="257" x2="912.3" y2="257" stroke="#333" stroke-width="0.9"/>
<line x1="963.7" y1="257" x2="973.2" y2="257" stroke="#333" stroke-width="0.9"/>
<line x1="958.8" y1="204.4" x2="958.8" y2="214.3" stroke="#333" stroke-width="0.9"/>
<line x1="958.8" y1="265" x2="958.8" y2="275.6" stroke="#333" stroke-width="0.9"/>
<line x1="903" y1="260.78" x2="912.3" y2="260.78" stroke="#333" stroke-width="0.9"/>
<line x1="963.7" y1="260.78" x2="973.2" y2="260.78" stroke="#333" stroke-width="0.9"/>
<circle cx="918.3" cy="259.3" r="2" fill="#000"/>
<text transform="translate(932.6,200.8) scale(0.87,1)" font-size="8.64" font-style="italic" fill="#222" stroke="#222" stroke-width="0.2">U1</text>
<text x="907.8" y="208.8" font-size="6.4" fill="#222">36</text>
<text x="967.8" y="216.6" font-size="6.4" fill="#222">24</text>
<text x="902.8" y="267.9" font-size="6.4" fill="#222">48</text>
<text x="912.8" y="275.6" font-size="6" fill="#222">1</text>
<text x="962.2" y="275.4" font-size="6.4" fill="#222">12</text>
<text x="894.9" y="315.4" font-size="8.2" font-style="italic" fill="#222" stroke="#222" stroke-width="0.2">U2</text>
<polygon points="879.2,323 883.6,318.3 922,318.3 919.1,323" fill="#fff" stroke="#333" stroke-width="1"/>
<polygon points="919.1,323 922,318.3 922,360.6 919.1,362.7" fill="#fff" stroke="#333" stroke-width="1"/>
<rect x="879.2" y="323" width="39.9" height="39.7" fill="#fff" stroke="#333" stroke-width="1"/>
<polygon points="882.4,362.3 891.5,362.3 891.5,370 887.7,370 887.7,392.8 882.4,392.8" fill="#fff" stroke="#333" stroke-width="0.9"/>
<polygon points="894.8,362.3 904.2,362.3 904.2,368 901.8,370.5 901.8,392.8 897.4,392.8 897.4,370.5 894.8,368" fill="#fff" stroke="#333" stroke-width="0.9"/>
<polygon points="909.4,362.3 917.8,362.3 917.8,392.8 913.4,392.8 913.4,370 909.4,370" fill="#fff" stroke="#333" stroke-width="0.9"/>
<path d="M892,332 A6.15,6.15 0 0,1 904.3,332 L904.3,360 Q904.3,365 898.15,365 Q892,365 892,360 Z" fill="#fff" stroke="#333" stroke-width="1"/>
<text x="885.1" y="401" font-size="8" text-anchor="middle" fill="#222">1</text>
<text x="899.3" y="401" font-size="8" text-anchor="middle" fill="#222">2</text>
<text x="915.6" y="401" font-size="8" text-anchor="middle" fill="#222">3</text>
<text x="946.3" y="323" font-size="8.2" font-style="italic" fill="#222" stroke="#222" stroke-width="0.2">U3</text>
<path d="M936.3,332 Q938,326 953,326 Q968,326 970,332" fill="#fff" stroke="#333" stroke-width="1"/>
<polygon points="929.5,337 936.3,332 973.8,332 969.4,337" fill="#fff" stroke="#333" stroke-width="1"/>
<polygon points="969.4,337 973.8,332 973.8,365.6 969.4,367.4" fill="#fff" stroke="#333" stroke-width="1"/>
<rect x="929.5" y="337" width="39.9" height="30.4" fill="#fff" stroke="#333" stroke-width="1"/>
<rect x="937.7" y="367.4" width="3" height="23.6" fill="#fff" stroke="#333" stroke-width="0.9"/>
<rect x="961.4" y="367.4" width="3" height="23.6" fill="#fff" stroke="#333" stroke-width="0.9"/>
<rect x="949.6" y="367.4" width="2.8" height="6.6" fill="#fff" stroke="#333" stroke-width="0.9"/>
<text x="951" y="383.4" font-size="8" text-anchor="middle" fill="#222">2</text>
<text x="939.2" y="401" font-size="8" text-anchor="middle" fill="#222">1</text>
<text x="962.9" y="401" font-size="8" text-anchor="middle" fill="#222">3</text>
<text x="816.8" y="39.9" font-size="22.6" fill="#000" textLength="127" lengthAdjust="spacingAndGlyphs">Bluetooth</text>
<text x="815.8" y="70.8" font-size="26.8" fill="#000" textLength="133.2" lengthAdjust="spacingAndGlyphs">SPEAKERS</text>
</svg>
</body></html>
